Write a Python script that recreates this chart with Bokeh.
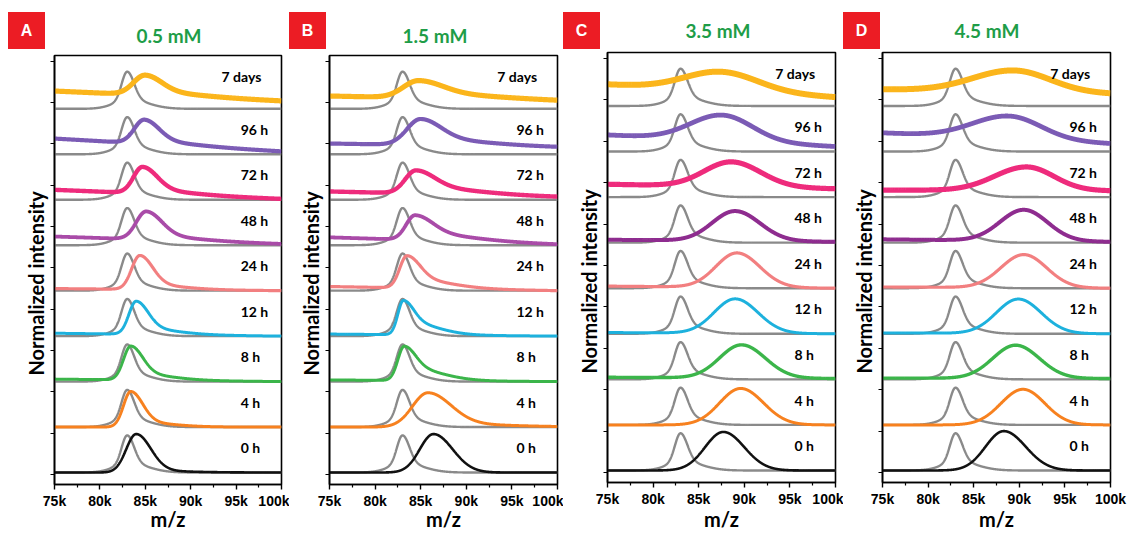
import numpy as np
from bokeh.plotting import figure
from bokeh.layouts import row, column
from bokeh.models import FixedTicker, Range1d, ColumnDataSource, Div, Title
from bokeh.embed import file_html
from bokeh.resources import INLINE
from bokeh.core.properties import value

# ---------------- data ----------------
letters = ["A", "B", "C", "D"]
concentrations = ["0.5 mM", "1.5 mM", "3.5 mM", "4.5 mM"]
times = ["0 h", "4 h", "8 h", "12 h", "24 h", "48 h", "72 h", "96 h", "7 days"]
colors = ["#111111", "#f7811f", "#3bb54a", "#1db1dd", "#f27f80",
          "#a34aa3", "#ee2b7c", "#7b5bb5", "#fbb51b"]
colors_48h = ["#a94ba8", "#a94ba8", "#8e2c8f", "#8e2c8f"]
x_ticks = [75, 80, 85, 90, 95, 100]
x_tick_labels = ["75k", "80k", "85k", "90k", "95k", "100k"]
x_minor_ticks = [77.5, 82.5, 87.5, 92.5, 97.5]
y_ticks = [0, 1, 2, 3, 4, 5, 6, 7, 8, 9, 10]

# grey reference peak (m/z in k)
grey_center = 83.0
grey_left = 0.6
grey_right = 0.75
grey_height = 0.68
grey_broad_left = 1.6
grey_broad_right = 2.1
grey_broad_height = 0.22

# coloured peaks: centre (k), left width, right width, height, tail share, baseline left/right
A_center = [84.0, 83.4, 83.4, 84.0, 84.4, 85.1, 84.7, 84.9, 85.0]
A_left = [1.1, 0.8, 0.8, 0.8, 0.9, 1.1, 1.0, 1.1, 1.3]
A_right = [1.6, 1.3, 1.3, 1.3, 1.4, 1.7, 1.6, 1.6, 1.8]
A_height = [0.93, 0.86, 0.82, 0.80, 0.82, 0.68, 0.64, 0.58, 0.48]
A_tail = [0.05, 0.15, 0.20, 0.20, 0.15, 0.15, 0.15, 0.15, 0.20]
A_base_l = [0.0, 0.0, 0.06, 0.07, 0.05, 0.21, 0.24, 0.38, 0.43]
A_base_r = [0.0, 0.0, 0.0, 0.0, 0.0, 0.03, 0.02, 0.07, 0.19]

B_center = [86.4, 85.8, 83.2, 83.1, 83.5, 84.4, 84.5, 85.0, 84.8]
B_left = [1.5, 1.7, 0.7, 0.6, 0.8, 1.0, 1.2, 1.5, 1.7]
B_right = [2.1, 2.5, 1.2, 1.1, 1.4, 1.9, 2.0, 2.2, 2.6]
B_height = [0.93, 0.83, 0.83, 0.83, 0.78, 0.60, 0.56, 0.63, 0.42]
B_tail = [0.0, 0.10, 0.40, 0.40, 0.30, 0.30, 0.30, 0.25, 0.30]
B_base_l = [0.0, 0.0, 0.04, 0.05, 0.10, 0.19, 0.20, 0.26, 0.31]
B_base_r = [0.0, 0.0, 0.0, 0.0, 0.0, 0.02, 0.07, 0.17, 0.19]

C_center = [87.7, 89.6, 89.7, 89.0, 89.2, 89.0, 88.6, 87.6, 87.5]
C_left = [2.0, 2.3, 2.4, 2.3, 2.3, 2.5, 3.0, 3.5, 4.0]
C_right = [2.3, 2.5, 2.6, 2.5, 2.5, 2.7, 3.2, 3.3, 4.0]
C_height = [0.93, 0.88, 0.80, 0.83, 0.83, 0.72, 0.60, 0.62, 0.46]
C_tail = [0.0, 0.0, 0.0, 0.0, 0.0, 0.0, 0.0, 0.0, 0.0]
C_base_l = [0.0, 0.0, 0.05, 0.03, 0.05, 0.07, 0.31, 0.40, 0.52]
C_base_r = [0.0, 0.0, 0.02, 0.0, 0.0, 0.02, 0.20, 0.12, 0.21]

D_center = [88.3, 90.4, 89.6, 89.9, 90.5, 90.5, 90.8, 88.9, 89.4]
D_left = [2.0, 2.4, 2.5, 2.4, 2.5, 2.6, 3.5, 4.0, 4.5]
D_right = [2.4, 2.4, 2.6, 2.5, 2.5, 2.6, 3.0, 3.5, 4.0]
D_height = [0.95, 0.86, 0.80, 0.83, 0.80, 0.75, 0.57, 0.55, 0.52]
D_tail = [0.0, 0.0, 0.0, 0.0, 0.0, 0.0, 0.0, 0.0, 0.0]
D_base_l = [0.0, 0.0, 0.03, 0.02, 0.03, 0.08, 0.17, 0.45, 0.40]
D_base_r = [0.0, 0.0, 0.02, 0.0, 0.0, 0.02, 0.15, 0.19, 0.29]

panel_data = [
    (A_center, A_left, A_right, A_height, A_tail, A_base_l, A_base_r),
    (B_center, B_left, B_right, B_height, B_tail, B_base_l, B_base_r),
    (C_center, C_left, C_right, C_height, C_tail, C_base_l, C_base_r),
    (D_center, D_left, D_right, D_height, D_tail, D_base_l, D_base_r),
]

# ---------------- layout / style ----------------
ROW_BASE = 0.05
ROW_STEP = 1.1
HEADER_H = 49
FIG_H = 533 - HEADER_H
FONT = "Lato"
GREEN = "#1e9d48"
RED = "#ec1c24"
# width, border_left, border_right, border_top, border_bottom, xlabel standoff
geoms = [(289, 54, 8, 6, 43, -5), (274, 40, 6, 6, 43, -5),
         (280, 44, 8, 3, 45, -3), (285, 39, 18, 3, 45, -3)]
box_left = [8, 0, 0, 0]
title_pos = [(169, 36), (146, 36), (155, 31), (144, 31)]
line_w_AB = [2.6, 3.0, 3.0, 3.0, 3.2, 3.8, 4.4, 4.2, 5.2]
line_w_CD = [2.6, 3.0, 3.4, 3.0, 3.2, 4.0, 5.2, 4.8, 6.0]

mz = np.linspace(75, 100, 1001)


def peak(c, sl, sr, h, tail=0.0):
    s = np.where(mz < c, sl, sr)
    main = np.exp(-0.5 * ((mz - c) / s) ** 2)
    st = np.where(mz < c, sl, 3.0 * sr)
    tl = np.exp(-0.5 * ((mz - c) / st) ** 2)
    return h * ((1 - tail) * main + tail * tl)


grey_profile = (peak(grey_center, grey_left, grey_right, grey_height)
                + peak(grey_center + 0.2, grey_broad_left, grey_broad_right, grey_broad_height))

cols = []
for k in range(4):
    W, bl_, br_, bt, bb, xls = geoms[k]
    tx, ty = title_pos[k]
    html = (
        f'<div style="position:relative;width:{W}px;height:{HEADER_H}px;">'
        f'<div style="position:absolute;left:{box_left[k]}px;top:12px;width:37px;height:37px;'
        f'background:{RED};color:#ffffff;font-family:\'Liberation Sans\',Arial,sans-serif;'
        f'font-weight:bold;font-size:16px;line-height:37px;text-align:center;">{letters[k]}</div>'
        f'<div style="position:absolute;left:{tx - 70}px;top:{ty - 13}px;width:140px;height:26px;'
        f'line-height:26px;text-align:center;color:{GREEN};font-family:Lato,sans-serif;'
        f'font-weight:bold;font-size:19px;white-space:nowrap;">{concentrations[k]}</div></div>'
    )
    header = Div(text=html, width=W, height=HEADER_H, margin=(0, 0, 0, 0))

    p = figure(width=W, height=FIG_H, min_border_left=bl_, min_border_right=br_,
               min_border_top=bt, min_border_bottom=bb,
               x_range=Range1d(75, 100), y_range=Range1d(-0.24, 10.14),
               output_backend="svg", toolbar_location=None, title=None,
               margin=(0, 0, 0, 0))
    p.grid.visible = False
    p.outline_line_color = "black"
    p.outline_line_width = 1.6
    p.background_fill_color = "white"
    p.border_fill_color = "white"

    xa = p.xaxis[0]
    xa.ticker = FixedTicker(ticks=x_ticks, minor_ticks=x_minor_ticks)
    xa.major_label_overrides = {t: l for t, l in zip(x_ticks, x_tick_labels)}
    xa.major_label_text_font = "Liberation Sans"
    xa.major_label_text_font_style = "bold"
    xa.major_label_text_font_size = "14px"
    xa.major_label_text_color = "black"
    xa.major_label_standoff = 3
    xa.major_tick_out = 5
    xa.major_tick_in = 0
    xa.minor_tick_out = 3
    xa.minor_tick_in = 0
    xa.axis_line_width = 1.6
    xa.major_tick_line_width = 1.4
    xa.minor_tick_line_width = 1.2
    xa.axis_label = "m/z"
    xa.axis_label_text_font = FONT
    xa.axis_label_text_font_style = "bold"
    xa.axis_label_text_font_size = "20px"
    xa.axis_label_text_color = "black"
    xa.axis_label_standoff = xls

    ya = p.yaxis[0]
    ya.ticker = FixedTicker(ticks=y_ticks, minor_ticks=[])
    ya.major_label_overrides = {t: "" for t in y_ticks}
    ya.major_label_text_font_size = "1px"
    ya.major_label_standoff = 0
    ya.major_tick_out = 4
    ya.major_tick_in = 0
    ya.axis_line_width = 1.6
    ya.major_tick_line_width = 1.2

    # y-axis title as a side title, placed a little below the frame centre
    p.add_layout(Title(text="Normalized intensity", align="left", offset=109,
                       standoff=6, text_font=FONT, text_font_style="bold",
                       text_font_size="20px", text_color="black"), "left")

    lw_list = line_w_AB if k < 2 else line_w_CD
    cen, lw_, rw_, hh, tl, bL, bR = panel_data[k]
    for i in range(9):
        base = ROW_BASE + i * ROW_STEP
        p.line(mz, base + grey_profile, line_color="#8a8a8a", line_width=2.4)
        baseline = bL[i] + (bR[i] - bL[i]) * (mz - 75) / 25.0
        y = base + baseline + peak(cen[i], lw_[i], rw_[i], hh[i], tl[i])
        col = colors_48h[k] if i == 5 else colors[i]
        p.line(mz, y, line_color=col, line_width=lw_list[i])

    lab_x = [95.5] * 8 + [93.4]
    lab_y = [ROW_BASE + i * ROW_STEP + (0.6 if i < 8 else 0.78) for i in range(9)]
    src = ColumnDataSource(dict(x=lab_x, y=lab_y, t=times))
    p.text(x="x", y="y", text="t", source=src, text_font=value(FONT),
           text_font_style="bold", text_font_size="14px", text_color="black",
           text_align="left", text_baseline="middle")

    cols.append(column(header, p, spacing=0, margin=(0, 0, 0, 0)))

layout = row(*cols, spacing=0, margin=(0, 0, 0, 0))
open("out.html", "w").write(file_html(layout, INLINE))
